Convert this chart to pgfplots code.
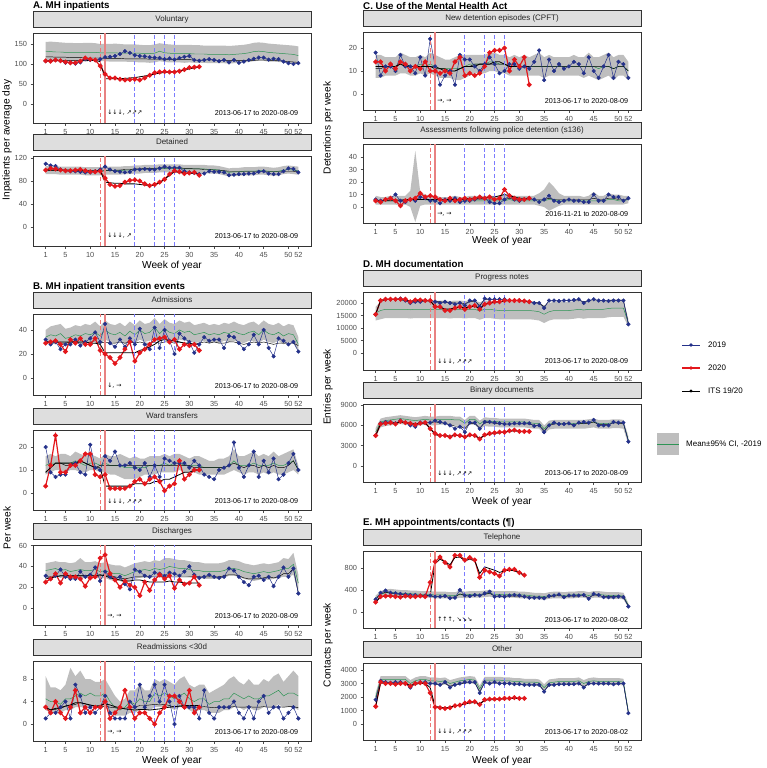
\documentclass[border=0pt]{standalone}
\usepackage{fontspec}
\setmainfont{Liberation Sans}
\newfontfamily\dejavu{DejaVu Sans}
\usepackage{pgfplots}
\pgfplotsset{compat=1.18}
\usepackage{pgfplotstable}
\usepgfplotslibrary{fillbetween}

\definecolor{c19}{HTML}{24318A}
\definecolor{c20}{HTML}{E3171C}
\definecolor{mgreen}{HTML}{2E9455}
\definecolor{bandgray}{HTML}{BEBEBE}
\definecolor{vred}{HTML}{EE7676}
\definecolor{vred2}{HTML}{E88282}
\definecolor{vblue}{HTML}{7B7BFF}
\definecolor{stripfill}{HTML}{DEDEDE}
\definecolor{bord}{HTML}{333333}
\definecolor{tickc}{HTML}{4D4D4D}

\newcommand\tickfont{\fontsize{7.4}{8}\selectfont}
\newcommand\stripfont{\fontsize{8}{9}\selectfont}
\newcommand\labfont{\fontsize{10.2}{12}\selectfont}
\newcommand\ttlfont{\fontsize{9.8}{11}\selectfont\bfseries}
\newcommand\annfont{\fontsize{7.2}{8}\selectfont}
\newcommand\arrfont{\dejavu\fontsize{6.2}{7}\selectfont}

\pgfplotsset{
  panel/.style={
    scale only axis,
    xmin=-1.55, xmax=54.55,
    xtick={1,5,10,15,20,25,30,35,40,45,50,52},
    scaled ticks=false,
    axis line style={line width=0.6pt, bord},
    tick align=outside, xtick pos=left, ytick pos=left,
    major tick length=2.5bp,
    tick style={line width=0.5pt, tickc},
    ticklabel style={font=\tickfont, text=tickc},
    xticklabel style={inner xsep=0.5pt},
    /pgf/number format/assume math mode=true,
    /pgf/number format/set thousands separator={},
    title style={at={(0.5,1)}, anchor=south, yshift=-0.3pt, fill=stripfill,
      draw=bord, line width=0.6pt, minimum height=16bp, inner sep=0pt,
      font=\stripfont, text=black!85},
    clip=true,
  },
  leftp/.style={panel, width=278bp, title style={minimum width=278bp}},
  rightp/.style={panel, width=278bp, title style={minimum width=278bp}},
}

% reference lines at weeks 12, 13, 19, 23, 25, 27 spanning the axis limits
\newcommand\vl[2]{%
  \addplot[vred, line width=1.0pt, dash pattern=on 4bp off 2.5bp] coordinates {(12,#1) (12,#2)};
  \addplot[vred2, line width=1.8pt] coordinates {(13,#1) (13,#2)};
  \addplot[vblue, line width=1.0pt, dash pattern=on 4bp off 2.5bp] coordinates {(19,#1) (19,#2)};
  \addplot[vblue, line width=1.0pt, dash pattern=on 4bp off 2.5bp] coordinates {(23,#1) (23,#2)};
  \addplot[vblue, line width=1.0pt, dash pattern=on 4bp off 2.5bp] coordinates {(25,#1) (25,#2)};
  \addplot[vblue, line width=1.0pt, dash pattern=on 4bp off 2.5bp] coordinates {(27,#1) (27,#2)};
}

\newcommand\panelplots[3]{%
  \addplot[name path=hi, draw=none] table[x=w,y=hi]{#1};
  \addplot[name path=lo, draw=none] table[x=w,y=lo]{#1};
  \addplot[bandgray, draw=none] fill between[of=hi and lo];
  \addplot[mgreen, line width=0.5pt] table[x=w,y=mn]{#1};
  \addplot[black, line width=0.45pt] table[x=w,y=i19]{#1};
  \addplot[c19, line width=0.5pt, mark=*, mark size=1.8bp] table[x=w,y=y19]{#1};
  \addplot[c20, line width=1.2pt, mark=*, mark size=1.8bp] table[x=w,y=y20]{#1};
  \addplot[black, line width=0.8pt] table[x=w,y=i20]{#1};
  \vl{#2}{#3}
}

\newcommand\ann[2]{%
  \node[anchor=west, font=\arrfont, inner sep=0pt] at ({axis cs:13.4,0}|-{rel axis cs:0,0.11}) {#1};
  \node[anchor=east, font=\annfont, inner sep=0pt] at ({axis cs:52,0}|-{rel axis cs:0,0.11}) {#2};
}

\pgfplotstableread{
w y19 y20 mn lo hi i19 i20
1 107 108 132 110 155 118 108
2 108 107 131 109 156 118 108
3 110 110 130 108 155 117 108
4 108 108 130 108 154 117 108
5 103 105 129 107 153 117 108
6 104 103 129 107 153 116 108
7 101 103 129 108 152 116 108
8 104 107 129 108 152 116 108
9 112 115 129 108 153 115 108
10 110 112 129 108 153 115 109
11 110 110 129 108 152 115 109
12 112 95 128 107 150 115 106
13 117 75 128 107 150 114 63
14 118 65 128 106 150 114 63
15 120 65 128 106 151 114 63
16 125 62 127 106 150 114 64
17 132 60 127 106 149 113 64
18 128 61 127 105 149 113 65
19 122 62 127 105 149 113 66
20 120 60 127 104 148 113 68
21 119 65 126 104 147 113 70
22 117 72 126 103 147 112 72
23 116 78 127 104 149 112 75
24 115 80 132 107 152 112 77
25 112 81 128 105 150 112 79
26 114 80 127 104 149 111 80
27 111 80 126 104 148 111 81
28 115 82 126 104 148 111 83
29 118 86 126 103 148 111 85
30 120 91 126 104 148 111 88
31 110 92 125 103 147 110 90
32 108 93 125 103 147 110 92
33 110 nan 125 103 146 110 nan
34 112 nan 124 102 146 110 nan
35 110 nan 124 102 146 110 nan
36 107 nan 124 102 146 109 nan
37 110 nan 124 102 146 109 nan
38 104 nan 123 101 145 109 nan
39 110 nan 124 102 146 109 nan
40 103 nan 125 103 147 109 nan
41 106 nan 126 104 148 109 nan
42 110 nan 128 105 150 109 nan
43 113 nan 131 107 153 109 nan
44 116 nan 132 108 154 110 nan
45 116 nan 131 108 153 110 nan
46 111 nan 129 106 151 109 nan
47 113 nan 128 106 150 109 nan
48 112 nan 127 105 149 108 nan
49 106 nan 126 104 148 107 nan
50 102 nan 125 103 147 106 nan
51 100 nan 124 102 146 105 nan
52 102 nan 121 100 144 104 nan
}\tVol

\pgfplotstableread{
w y19 y20 mn lo hi i19 i20
1 110 99 99 92 106 98 99
2 107 102 99 92 106 98 99
3 106 101 99 92 106 98 99
4 100 99 98 91 105 98 99
5 98 98 98 91 105 98 99
6 97 98 98 91 105 98 99
7 97 99 98 91 105 97 98
8 96 100 98 91 105 97 98
9 95 98 97 90 104 97 98
10 95 96 97 90 104 97 98
11 97 96 97 90 104 97 98
12 100 97 97 90 104 97 98
13 105 85 98 91 105 98 78
14 100 74 98 91 105 98 77
15 97 71 98 91 105 99 76
16 96 72 98 91 105 99 76
17 95 78 99 92 106 100 75
18 96 81 99 92 106 100 75
19 100 82 100 93 107 101 75
20 100 80 100 93 107 101 74
21 101 75 101 94 108 102 73
22 100 72 101 94 108 102 72
23 100 74 101 94 108 102 73
24 102 78 102 95 109 103 77
25 105 83 102 95 109 103 83
26 103 92 102 95 109 103 90
27 103 98 102 95 109 103 96
28 103 96 102 95 109 103 95
29 97 93 101 94 108 102 94
30 95 94 101 94 108 102 93
31 94 95 101 94 108 101 93
32 92 90 101 94 108 101 92
33 93 nan 101 94 108 100 nan
34 97 nan 100 93 107 100 nan
35 96 nan 100 93 107 99 nan
36 96 nan 99 92 106 99 nan
37 95 nan 97 90 104 98 nan
38 90 nan 95 88 102 97 nan
39 91 nan 96 89 103 97 nan
40 92 nan 96 89 103 97 nan
41 92 nan 97 90 104 97 nan
42 93 nan 97 90 104 97 nan
43 93 nan 97 90 104 97 nan
44 96 nan 98 91 105 97 nan
45 97 nan 98 91 105 97 nan
46 93 nan 97 90 104 97 nan
47 92 nan 96 89 103 97 nan
48 92 nan 97 90 104 97 nan
49 97 nan 99 92 106 97 nan
50 102 nan 100 93 107 97 nan
51 101 nan 99 92 106 97 nan
52 95 nan 98 91 105 96 nan
}\tDet

\pgfplotstableread{
w y19 y20 mn lo hi i19 i20
1 32 29 34 28 40 30 30
2 28 30 36 29 43 30 30
3 30 31 35 28 44 30 30
4 24 28 37 30 45 29 30
5 28 22 33 27 41 29 30
6 28 32 34 28 42 30 30
7 32 29 36 30 44 30 30
8 27 33 35 29 43 29 30
9 30 28 37 30 45 29 30
10 33 28 36 29 44 30 29
11 38 33 38 31 47 30 29
12 30 23 35 28 43 29 28
13 45 20 40 32 48 30 21
14 29 17 37 30 45 29 21
15 26 12 36 29 44 29 21
16 32 17 38 31 46 30 21
17 26 24 35 28 43 29 21
18 33 30 39 31 47 30 21
19 28 14 36 29 44 29 21
20 41 21 40 32 48 30 23
21 28 24 37 30 45 29 24
22 24 28 38 31 46 29 26
23 42 32 42 34 50 30 28
24 25 33 37 30 45 29 31
25 40 34 41 33 49 30 32
26 31 30 38 31 46 30 31
27 20 32 37 30 45 29 31
28 37 24 40 32 48 30 30
29 33 28 38 31 46 29 29
30 30 27 39 31 47 29 29
31 21 28 36 29 44 28 28
32 28 23 37 30 45 29 28
33 34 nan 38 31 46 30 nan
34 31 nan 36 29 44 29 nan
35 32 nan 37 30 45 30 nan
36 32 nan 36 29 44 29 nan
37 25 nan 38 31 46 29 nan
38 35 nan 37 30 45 30 nan
39 34 nan 39 31 47 30 nan
40 29 nan 37 30 45 29 nan
41 24 nan 36 29 44 28 nan
42 28 nan 38 31 46 29 nan
43 36 nan 39 31 47 30 nan
44 28 nan 36 29 44 29 nan
45 40 nan 40 32 48 30 nan
46 25 nan 37 30 45 29 nan
47 18 nan 36 29 44 28 nan
48 33 nan 38 31 46 29 nan
49 31 nan 35 28 43 29 nan
50 28 nan 37 30 45 29 nan
51 30 nan 36 29 44 29 nan
52 22 nan 28 22 34 27 nan
}\tAdm

\pgfplotstableread{
w y19 y20 mn lo hi i19 i20
1 20 3 12 8 16 9 9
2 9 12 13 9 17 11 11
3 7 25 13 10 16 13 13
4 8 9 13 10 17 13 13
5 8 9 13 9 17 12 13
6 12 12 13 10 16 12 13
7 13 12 14 10 18 13 13
8 9 14 13 9 17 14 14
9 8 17 12 9 16 13 13
10 21 17 13 10 17 12 12
11 11 8 13 10 16 11 11
12 10 7 12 9 15 12 11
13 16 8 13 9 17 12 3
14 14 2 12 8 16 12 3
15 18 2 12 8 16 12 3
16 12 2 12 7 17 12 3
17 12 2 11 6 16 12 3
18 13 3 11 6 15 12 3
19 11 5 11 6 16 12 4
20 10 6 11 7 15 12 4
21 13 4 11 8 15 12 4
22 7 6 12 8 16 12 4
23 12 7 12 8 16 12 5
24 7 5 12 9 16 12 5
25 15 1 13 9 17 12 6
26 14 3 12 9 16 12 6
27 13 4 13 9 17 12 7
28 13 14 13 10 17 12 8
29 13 6 12 9 16 12 9
30 11 8 12 9 15 12 9
31 14 10 12 9 16 11 10
32 12 10 12 8 16 11 10
33 8 nan 11 8 15 11 nan
34 7 nan 11 8 14 11 nan
35 6 nan 11 8 14 11 nan
36 10 nan 11 8 15 11 nan
37 11 nan 11 8 15 11 nan
38 12 nan 12 9 16 12 nan
39 22 nan 14 10 19 13 nan
40 11 nan 12 9 16 12 nan
41 7 nan 12 8 16 11 nan
42 12 nan 12 9 17 12 nan
43 18 nan 13 9 18 12 nan
44 7 nan 12 8 16 11 nan
45 14 nan 12 9 17 12 nan
46 9 nan 12 8 16 11 nan
47 15 nan 13 9 18 12 nan
48 6 nan 12 8 16 11 nan
49 8 nan 12 8 17 11 nan
50 13 nan 13 9 18 12 nan
51 17 nan 14 10 19 14 nan
52 10 nan 10 8 12 10 nan
}\tWard

\pgfplotstableread{
w y19 y20 mn lo hi i19 i20
1 31 25 36 29 43 30 28
2 28 28 37 30 44 30 29
3 31 33 38 31 45 30 30
4 37 24 36 29 44 31 31
5 30 33 37 30 44 31 31
6 28 30 35 28 43 31 31
7 28 30 36 29 44 31 31
8 35 28 37 29 48 31 31
9 30 21 36 29 44 31 31
10 32 29 36 29 44 31 31
11 39 30 37 30 45 31 31
12 26 48 35 28 43 31 32
13 35 51 36 29 44 32 31
14 30 33 34 27 42 31 29
15 28 27 33 26 41 30 28
16 30 20 33 26 41 29 27
17 23 26 31 24 39 28 26
18 18 22 33 26 41 29 26
19 37 20 35 28 43 30 27
20 35 12 36 29 44 30 27
21 31 25 37 30 45 30 26
22 30 17 36 29 44 30 25
23 34 27 38 31 46 30 25
24 33 32 37 30 45 30 25
25 31 28 38 30 48 30 25
26 34 31 40 32 48 30 26
27 33 19 39 31 47 30 25
28 31 27 38 31 46 30 25
29 35 23 38 31 46 30 24
30 40 24 37 30 45 30 24
31 32 30 36 29 44 30 24
32 29 22 36 29 44 30 24
33 30 nan 35 28 43 30 nan
34 32 nan 35 28 43 30 nan
35 30 nan 35 28 43 30 nan
36 29 nan 35 28 43 30 nan
37 30 nan 36 29 44 31 nan
38 38 nan 38 31 46 32 nan
39 36 nan 38 31 46 32 nan
40 30 nan 37 30 45 31 nan
41 25 nan 35 28 43 29 nan
42 22 nan 34 27 42 28 nan
43 30 nan 33 26 41 28 nan
44 31 nan 34 27 42 28 nan
45 27 nan 35 28 43 29 nan
46 30 nan 34 27 42 30 nan
47 21 nan 35 28 43 29 nan
48 30 nan 36 29 44 30 nan
49 39 nan 38 30 48 33 nan
50 30 nan 38 30 47 33 nan
51 38 nan 42 32 53 38 nan
52 14 nan 24 14 32 14 nan
}\tDis

\pgfplotstableread{
w y19 y20 mn lo hi i19 i20
1 1 3 4.5 2.5 8.5 2.8 3.0
2 2 2 4 2 6.5 2.6 2.5
3 2 4 4 2 6.5 2.6 2.8
4 3 2 3.5 2 6 3.0 2.8
5 4 1 4.5 2.5 7 3.2 3.2
6 1 3 4.5 2.5 10 3.3 3.4
7 7 6 5 3 8.5 3.5 3.8
8 5 2 5.5 3 9.5 3.8 3.8
9 2 3 5 3 8 3.6 3.6
10 3 2 5.5 3 8 3.3 3.4
11 2 3 5 3 7.5 3.2 3.2
12 3 3 5 3 7.5 3.0 3.3
13 5 4 5.5 3 8 3.2 3.6
14 2 1 4 2 6.5 3.0 3.4
15 1 2 3 1.5 5 2.9 3.1
16 1 3 2.5 1.5 4 2.8 2.9
17 1 6 3 1.5 4.5 2.8 2.7
18 4 3 4 2 6 3.0 2.6
19 3 1 3.5 2 6 3.0 2.5
20 7 2 4.5 2.5 7 3.3 2.6
21 3 2 4 2.5 6 3.3 2.6
22 5 1 4 2.5 6 3.4 2.5
23 7 0 5.5 3 8 3.5 2.6
24 4 2 5 3 7.5 3.4 2.7
25 7 3 5.5 3 8 3.5 2.9
26 4 5 5 3 7.5 3.3 3.0
27 0 5 4.5 2.5 7 3.0 3.1
28 5 4 5 3 8 3.2 3.2
29 3 3 5.5 3 8.5 3.1 3.3
30 3 6 4.5 2.5 7 3.1 3.3
31 3 2 4 2 6.5 3.0 3.3
32 1 3 4.5 2.5 7 3.0 3.3
33 6 nan 4.5 2.5 7 3.1 nan
34 2 nan 3.5 2 5.5 3.0 nan
35 1 nan 4 2 6 2.9 nan
36 3 nan 4 2 6.5 3.0 nan
37 3 nan 4.5 2.5 7 3.0 nan
38 3 nan 4.5 2.5 8 3.0 nan
39 4 nan 5.5 3 8.5 3.1 nan
40 2 nan 5 3 7.5 3.0 nan
41 1 nan 4.5 2.5 7 3.0 nan
42 3 nan 5 3 8 3.1 nan
43 1 nan 4.5 2.5 7 3.0 nan
44 4 nan 4.5 2.5 7 3.0 nan
45 5 nan 5 3 8 3.1 nan
46 2 nan 5 3 7.5 3.0 nan
47 3 nan 5.5 3 8.5 3.0 nan
48 3 nan 6 3.5 9 3.1 nan
49 1 nan 5 3 7.5 3.0 nan
50 2 nan 5.5 3 8.5 3.1 nan
51 3 nan 5.5 3 9.5 3.1 nan
52 1 nan 5 2.5 8.5 2.9 nan
}\tRead

\pgfplotstableread{
w y19 y20 mn lo hi i19 i20
1 18 14 12 7 17 11 12
2 8 14 12 7 17 11 12
3 12 10 12 8 16 12 12
4 12 13 12 8 16 12 12
5 10 11 12 8 16 12 12
6 17 14 14 9 18 13 13
7 12 13 13 9 17 13 12
8 12 10 12 8 16 12 12
9 9 12 12 8 16 12 12
10 16 11 13 9 17 12 12
11 8 14 12 8 16 12 12
12 24 10 13 9 18 12 12
13 12 10 12 8 17 12 11
14 4 9 11 7 16 11 11
15 8 10 11 7 15 11 10
16 10 9 11 7 15 10 10
17 4 14 11 6 16 10 10
18 17 16 11 6 17 11 11
19 15 8 12 7 17 12 12
20 15 9 13 8 17 12 12
21 12 8 13 9 17 13 12
22 10 9 13 9 17 13 13
23 13 12 13 9 17 13 13
24 16 18 14 10 18 13 13
25 13 19 14 10 18 13 14
26 9 19 13 9 17 13 14
27 10 20 13 9 17 13 13
28 13 10 12 8 16 12 12
29 13 15 12 8 17 12 12
30 11 12 12 8 16 12 12
31 12 16 12 8 17 12 12
32 11 4 12 8 16 12 12
33 14 nan 12 8 17 12 nan
34 19 nan 12 8 18 12 nan
35 6 nan 12 7 16 12 nan
36 15 nan 12 8 17 12 nan
37 10 nan 12 8 16 12 nan
38 13 nan 12 8 16 12 nan
39 11 nan 12 8 16 12 nan
40 12 nan 12 8 16 12 nan
41 14 nan 12 8 17 12 nan
42 13 nan 12 8 16 12 nan
43 9 nan 12 7 16 12 nan
44 16 nan 12 8 18 12 nan
45 10 nan 12 7 16 12 nan
46 7 nan 11 6 16 12 nan
47 12 nan 12 7 17 12 nan
48 17 nan 12 8 18 12 nan
49 7 nan 11 6 16 11 nan
50 14 nan 12 8 17 12 nan
51 13 nan 12 8 17 12 nan
52 7 nan 10 6 14 10 nan
}\tNew

\pgfplotstableread{
w y19 y20 mn lo hi i19 i20
1 6 5 5 2 9 5 5
2 5 4 5 2 8 5 5
3 6 6 5 2 8 5 5
4 7 7 5 2 9 6 5
5 10 5 5 2 9 6 5
6 5 1 5 1 9 6 5
7 4 5 5 2 9 6 6
8 6 6 6 0 13 6 6
9 5 7 6 -12 45 6 6
10 8 11 6 1 12 6 6
11 7 8 6 2 10 6 6
12 5 9 5 2 9 6 6
13 5 8 5 2 9 6 6
14 3 6 5 2 8 6 6
15 6 5 5 2 8 6 6
16 5 7 5 2 8 6 6
17 7 5 5 2 9 6 6
18 4 6 5 2 8 6 6
19 5 7 5 2 8 6 6
20 5 6 5 2 9 6 7
21 6 7 5 2 9 6 7
22 8 8 5 2 9 6 7
23 7 7 5 2 9 6 7
24 4 8 5 2 9 6 8
25 3 6 5 2 9 6 8
26 3 7 5 2 9 6 9
27 6 14 5 2 10 6 10
28 9 9 6 2 10 7 9
29 6 7 5 2 9 6 8
30 5 6 5 2 9 6 7
31 6 6 5 2 9 6 7
32 7 7 5 2 9 6 7
33 6 nan 5 2 9 6 nan
34 4 nan 5 1 11 6 nan
35 6 nan 5 0 14 6 nan
36 9 nan 6 -3 20 7 nan
37 5 nan 6 -1 16 6 nan
38 4 nan 5 1 11 6 nan
39 5 nan 5 2 9 6 nan
40 6 nan 5 2 9 6 nan
41 5 nan 5 2 9 6 nan
42 5 nan 5 2 9 6 nan
43 4 nan 5 2 8 6 nan
44 4 nan 5 2 9 6 nan
45 10 nan 5 2 12 7 nan
46 5 nan 5 2 9 6 nan
47 5 nan 5 2 9 6 nan
48 10 nan 6 2 11 7 nan
49 8 nan 6 2 10 7 nan
50 8 nan 5 2 10 6 nan
51 5 nan 5 2 9 6 nan
52 7 nan 6 3 9 6 nan
}\tAss

\pgfplotstableread{
w y19 y20 mn lo hi i19 i20
1 15500 15500 16000 13000 18500 15500 15500
2 21000 21000 17000 13500 20500 21000 21000
3 21500 21500 17500 14000 21000 21300 21300
4 21500 21500 17500 14000 21000 21300 21300
5 21500 21500 17500 14000 21000 21300 21300
6 21800 21500 17500 14000 21000 21300 21300
7 21000 21500 17500 14000 21000 21000 21200
8 20000 20500 17300 13800 20800 20300 20600
9 20500 21200 17500 14000 21000 20500 21000
10 20500 21200 17500 14000 21000 20700 21000
11 21000 21000 17500 14000 21000 20800 20900
12 21000 21000 17500 14000 21000 20800 20900
13 20500 18500 17500 14000 21000 20800 18600
14 20000 18500 17500 14000 21000 20500 18400
15 20500 17000 17500 14000 21000 20300 17600
16 20000 17000 17300 13800 20800 20200 17600
17 19500 18000 17500 14000 21000 20000 18000
18 20000 18500 17500 14000 21000 20000 18400
19 19000 17500 17300 13800 20800 19800 18000
20 21000 18500 17500 14000 21000 20500 18500
21 21000 19000 17500 14000 21000 20800 18800
22 18500 17500 16800 13300 20300 19000 17800
23 21800 19500 17500 14000 21000 21500 19500
24 21500 20000 17500 14000 21000 21300 19900
25 21500 20500 17200 13700 20700 21300 20300
26 21500 20500 17000 13500 20500 21300 20500
27 21500 21000 17000 13500 20500 21300 20800
28 21000 21000 17000 13500 20500 21000 20900
29 21000 21000 17000 13500 20500 21000 20900
30 21000 21000 17000 13500 20500 21000 20900
31 20800 20800 17000 13500 20500 20800 20800
32 20500 20500 17000 13500 20500 20600 20600
33 20000 nan 16800 13300 20300 20300 nan
34 20000 nan 16500 13000 20000 20000 nan
35 18000 nan 15500 12000 19000 18500 nan
36 21000 nan 16500 13000 20000 20800 nan
37 21000 nan 17000 13500 20500 20900 nan
38 20800 nan 17000 13500 20500 20800 nan
39 21000 nan 17000 13500 20500 20900 nan
40 21000 nan 17000 13500 20500 21000 nan
41 21200 nan 17200 13700 20700 21000 nan
42 21500 nan 17500 14000 21000 21200 nan
43 20000 nan 17200 13700 20700 20500 nan
44 21000 nan 17500 14000 21000 21000 nan
45 21500 nan 17500 14000 21000 21300 nan
46 21000 nan 17500 14000 21000 21000 nan
47 21000 nan 17500 14000 21000 20900 nan
48 20800 nan 17800 14300 21300 20900 nan
49 21000 nan 18000 14500 21500 21000 nan
50 21000 nan 18000 14500 21500 21000 nan
51 21000 nan 18000 14500 21500 21000 nan
52 11500 nan 12000 10500 13500 11800 nan
}\tProg

\pgfplotstableread{
w y19 y20 mn lo hi i19 i20
1 4500 4500 5000 4300 5600 4500 4500
2 6300 6200 6500 5700 7000 6300 6200
3 6500 6300 6700 5900 7200 6400 6300
4 6500 6400 6800 6000 7300 6400 6400
5 6300 6200 6900 6100 7400 6400 6300
6 6700 6600 7000 6200 7500 6500 6500
7 6400 6400 6900 6100 7400 6400 6400
8 6000 6300 6800 6000 7300 6200 6300
9 5800 6100 6700 5900 7200 6100 6200
10 6400 6300 6800 6000 7300 6300 6300
11 6400 6400 6900 6100 7400 6400 6300
12 6400 5500 6800 6000 7300 6400 5600
13 6700 4800 6800 6000 7300 6500 4600
14 6500 4500 6900 6100 7400 6400 4500
15 6300 4500 6900 6100 7400 6300 4500
16 6000 4300 6900 6100 7400 6100 4400
17 5500 4600 6800 6000 7300 5900 4500
18 5800 4500 6800 6000 7300 5900 4500
19 5000 4300 6300 5500 6800 5500 4300
20 6400 4600 6900 6100 7400 6300 4500
21 6400 4500 6900 6100 7400 6300 4500
22 5500 4000 6200 5400 6700 5600 4100
23 6500 4600 6700 5900 7200 6400 4500
24 6500 4800 6600 5800 7100 6400 4700
25 6400 4900 6600 5800 7100 6300 4800
26 6300 5000 6500 5700 7000 6300 4900
27 6200 5000 6500 5700 7000 6200 5000
28 6200 5200 6500 5700 7000 6200 5100
29 6300 5300 6500 5700 7000 6200 5200
30 6300 5100 6500 5700 7000 6200 5100
31 6300 5100 6500 5700 7000 6200 5100
32 6300 5100 6400 5600 6900 6200 5100
33 5900 nan 6300 5500 6800 6000 nan
34 6000 nan 6300 5500 6800 6000 nan
35 5000 nan 5500 4700 6000 5200 nan
36 6000 nan 6200 5400 6700 6000 nan
37 6400 nan 6300 5500 6800 6200 nan
38 6200 nan 6300 5500 6800 6200 nan
39 6200 nan 6300 5500 6800 6200 nan
40 6300 nan 6300 5500 6800 6200 nan
41 6000 nan 6300 5500 6800 6100 nan
42 6400 nan 6300 5500 6800 6300 nan
43 6500 nan 6300 5500 6800 6300 nan
44 6400 nan 6400 5600 6900 6300 nan
45 6800 nan 6500 5700 7000 6500 nan
46 6000 nan 6300 5500 6800 6100 nan
47 6000 nan 6300 5500 6800 6100 nan
48 6000 nan 6300 5500 6800 6100 nan
49 6500 nan 6400 5600 6900 6400 nan
50 6400 nan 6400 5600 6900 6300 nan
51 6400 nan 6300 5500 6800 6300 nan
52 3600 nan 3800 3200 4400 3700 nan
}\tBin

\pgfplotstableread{
w y19 y20 mn lo hi i19 i20
1 230 180 260 220 300 230 180
2 350 280 320 270 380 330 280
3 390 290 350 290 410 360 290
4 350 290 360 300 420 340 290
5 340 280 350 290 410 330 290
6 330 270 340 280 400 320 280
7 320 290 340 280 400 310 280
8 310 280 330 270 390 300 280
9 310 280 330 270 390 300 280
10 300 290 320 260 380 300 290
11 300 280 320 260 380 300 290
12 300 540 320 260 380 290 300
13 280 915 310 250 370 280 880
14 280 1000 310 250 370 280 960
15 290 900 310 250 370 280 910
16 250 820 300 240 360 270 860
17 260 1030 300 240 360 270 990
18 400 1030 320 260 390 330 1000
19 300 945 310 250 370 300 930
20 290 990 320 260 380 290 960
21 310 945 320 260 380 300 930
22 300 630 320 260 380 300 700
23 340 760 330 270 390 320 820
24 370 730 340 280 400 340 790
25 280 700 320 260 380 290 760
26 290 655 320 260 380 290 720
27 280 760 320 260 380 290 750
28 300 775 320 260 380 290 760
29 310 775 320 260 380 290 750
30 300 715 310 250 370 290 710
31 280 670 310 250 370 280 670
32 260 nan 300 240 360 270 nan
33 260 nan 290 230 350 270 nan
34 260 nan 290 230 350 270 nan
35 250 nan 280 220 340 260 nan
36 290 nan 300 240 360 280 nan
37 300 nan 310 250 370 290 nan
38 320 nan 310 250 370 300 nan
39 270 nan 300 240 360 280 nan
40 300 nan 310 250 370 290 nan
41 300 nan 310 250 370 290 nan
42 300 nan 320 260 380 290 nan
43 310 nan 320 260 380 300 nan
44 240 nan 300 240 360 260 nan
45 330 nan 320 260 380 310 nan
46 310 nan 320 260 380 300 nan
47 270 nan 310 250 370 280 nan
48 270 nan 300 240 360 280 nan
49 270 nan 300 240 360 280 nan
50 280 nan 300 240 360 280 nan
51 270 nan 290 230 350 270 nan
52 100 nan 120 80 160 110 nan
}\tTel

\pgfplotstableread{
w y19 y20 mn lo hi i19 i20
1 1800 1300 2000 1700 2300 1800 1300
2 3200 3100 3300 3050 3550 3150 3050
3 3100 3000 3300 3050 3550 3100 3000
4 3050 3000 3300 3050 3550 3050 3000
5 3100 2950 3300 3050 3550 3050 2950
6 3100 3000 3300 3050 3550 3050 3000
7 3000 3000 3300 3050 3550 3000 3000
8 2700 2800 3000 2750 3250 2800 2850
9 3000 3000 3200 2950 3450 3000 2950
10 3100 3050 3300 3050 3550 3050 3000
11 3100 3000 3300 3050 3550 3050 3000
12 3000 2300 3200 2950 3450 3000 2700
13 3000 1250 3200 2950 3450 2950 1300
14 2900 1200 3150 2900 3400 2900 1250
15 3100 1150 3200 2950 3450 3000 1200
16 2700 1200 3000 2750 3250 2800 1250
17 2900 1350 3100 2850 3350 2900 1350
18 3000 1400 3200 2950 3450 2950 1400
19 3100 1550 3250 3000 3500 3050 1500
20 3100 1650 3300 3050 3550 3050 1550
21 3100 1650 3250 3000 3500 3050 1600
22 2300 1450 2600 2350 2850 2400 1500
23 3100 1800 3250 3000 3500 3050 1750
24 3000 1850 3250 3000 3500 3000 1800
25 3100 1850 3250 3000 3500 3050 1800
26 3000 1850 3250 3000 3500 3000 1850
27 3000 1900 3200 2950 3450 3000 1850
28 3000 1900 3200 2950 3450 3000 1900
29 2950 1950 3150 2900 3400 2950 1900
30 2950 1900 3150 2900 3400 2950 1900
31 2900 1900 3100 2850 3350 2900 1900
32 2900 nan 3100 2850 3350 2900 nan
33 2900 nan 3100 2850 3350 2900 nan
34 2900 nan 3050 2800 3300 2900 nan
35 2400 nan 2700 2450 2950 2450 nan
36 2900 nan 3050 2800 3300 2900 nan
37 2900 nan 3100 2850 3350 2900 nan
38 2950 nan 3150 2900 3400 2950 nan
39 2950 nan 3150 2900 3400 2950 nan
40 2950 nan 3150 2900 3400 2950 nan
41 2950 nan 3150 2900 3400 2950 nan
42 3000 nan 3200 2950 3450 3000 nan
43 2700 nan 3000 2750 3250 2750 nan
44 3000 nan 3150 2900 3400 3000 nan
45 3000 nan 3200 2950 3450 3000 nan
46 3000 nan 3150 2900 3400 3000 nan
47 3000 nan 3150 2900 3400 3000 nan
48 3000 nan 3150 2900 3400 3000 nan
49 2950 nan 3150 2900 3400 2950 nan
50 3000 nan 3150 2900 3400 3000 nan
51 3000 nan 3100 2850 3350 3000 nan
52 800 nan 900 700 1100 850 nan
}\tOth

\begin{document}
\begin{tikzpicture}[x=1bp,y=1bp]

% ---------- titles and labels
\node[anchor=west, font=\ttlfont, inner sep=0pt] at (33,-6) {A. MH inpatients};
\node[anchor=west, font=\ttlfont, inner sep=0pt] at (33,-287) {B. MH inpatient transition events};
\node[anchor=west, font=\ttlfont, inner sep=0pt] at (363,-6) {C. Use of the Mental Health Act};
\node[anchor=west, font=\ttlfont, inner sep=0pt] at (363,-264) {D. MH documentation};
\node[anchor=west, font=\ttlfont, inner sep=0pt] at (363,-523) {E. MH appointments/contacts (¶)};

\node[rotate=90, font=\labfont, inner sep=0pt] at (7,-140) {Inpatients per average day};
\node[rotate=90, font=\labfont, inner sep=0pt] at (7,-528) {Per week};
\node[rotate=90, font=\labfont, inner sep=0pt] at (328,-128) {Detentions per week};
\node[rotate=90, font=\labfont, inner sep=0pt] at (328,-387) {Entries per week};
\node[rotate=90, font=\labfont, inner sep=0pt] at (328,-645) {Contacts per week};

\node[font=\labfont, inner sep=0pt] at (172,-266) {Week of year};
\node[font=\labfont, inner sep=0pt] at (172,-761) {Week of year};
\node[font=\labfont, inner sep=0pt] at (502,-241) {Week of year};
\node[font=\labfont, inner sep=0pt] at (502,-502) {Week of year};
\node[font=\labfont, inner sep=0pt] at (502,-761) {Week of year};

% ---------- legend
\draw[c19, line width=0.5pt] (682,-345) -- (700,-345);
\fill[c19] (691,-345) circle (1.8);
\node[anchor=west, font=\fontsize{8}{9}\selectfont, inner sep=0pt] at (708,-345) {2019};
\draw[c20, line width=1.2pt] (682,-368) -- (700,-368);
\fill[c20] (691,-368) circle (1.8);
\node[anchor=west, font=\fontsize{8}{9}\selectfont, inner sep=0pt] at (708,-368) {2020};
\draw[black, line width=0.7pt] (682,-391) -- (700,-391);
\fill[black] (691,-391) circle (1.6);
\node[anchor=west, font=\fontsize{8}{9}\selectfont, inner sep=0pt] at (708,-391) {ITS 19/20};
\fill[bandgray] (657,-433) rectangle (679,-455);
\draw[mgreen, line width=0.5pt] (657,-444) -- (679,-444);
\node[anchor=west, font=\fontsize{8}{9}\selectfont, inner sep=0pt] at (686,-444) {Mean±95\% CI, -2019};

% ---------- C  (right column drawn first)
\begin{axis}[rightp, at={(363bp,-110bp)}, anchor=south west, height=78bp,
  ymin=-7, ymax=27, ytick={0,10,20}, title={New detention episodes (CPFT)}]
\panelplots{\tNew}{-7}{27}
\ann{→, →}{2013-06-17 to 2020-08-09}
\end{axis}
\begin{axis}[rightp, at={(363bp,-223bp)}, anchor=south west, height=79bp,
  ymin=-12.8, ymax=50.4, ytick={0,10,20,30,40}, title={Assessments following police detention (s136)}]
\panelplots{\tAss}{-12.8}{50.4}
\ann{→, →}{2016-11-21 to 2020-08-09}
\end{axis}

% ---------- D
\begin{axis}[rightp, at={(363bp,-370bp)}, anchor=south west, height=78bp,
  ymin=-6800, ymax=24400, ytick={0,5000,10000,15000,20000}, title={Progress notes}]
\panelplots{\tProg}{-6800}{24400}
\ann{↓↓↓, ↗↗↗}{2013-06-17 to 2020-08-09}
\end{axis}
\begin{axis}[rightp, at={(363bp,-482bp)}, anchor=south west, height=78bp,
  ymin=-2360, ymax=9150, ytick={0,3000,6000,9000}, title={Binary documents}]
\panelplots{\tBin}{-2360}{9150}
\ann{↓↓↓, ↗↗↗}{2013-06-17 to 2020-08-09}
\end{axis}

% ---------- E
\begin{axis}[rightp, at={(363bp,-628bp)}, anchor=south west, height=77bp,
  ymin=-291, ymax=1109, ytick={0,400,800}, title={Telephone}]
\panelplots{\tTel}{-291}{1109}
\ann{↑↑↑, ↘↘↘}{2013-06-17 to 2020-08-02}
\end{axis}
\begin{axis}[rightp, at={(363bp,-740bp)}, anchor=south west, height=77bp,
  ymin=-1185, ymax=4518, ytick={0,1000,2000,3000,4000}, title={Other}]
\panelplots{\tOth}{-1185}{4518}
\ann{↓↓↓, ↗↗↗}{2013-06-17 to 2020-08-02}
\end{axis}

% ---------- A
\begin{axis}[leftp, at={(33bp,-123bp)}, anchor=south west, height=90bp,
  ymin=-47.5, ymax=177.5, ytick={0,50,100,150}, title={Voluntary}]
\panelplots{\tVol}{-47.5}{177.5}
\ann{↓↓↓, ↗↗↗}{2013-06-17 to 2020-08-09}
\end{axis}
\begin{axis}[leftp, at={(33bp,-246bp)}, anchor=south west, height=90bp,
  ymin=-33, ymax=123.5, ytick={0,40,80,120}, title={Detained}]
\panelplots{\tDet}{-33}{123.5}
\ann{↓↓↓, ↗}{2013-06-17 to 2020-08-09}
\end{axis}

% ---------- B
\begin{axis}[leftp, at={(33bp,-395bp)}, anchor=south west, height=81bp,
  ymin=-14.2, ymax=53.3, ytick={0,20,40}, title={Admissions}]
\panelplots{\tAdm}{-14.2}{53.3}
\ann{↓, →}{2013-06-17 to 2020-08-09}
\end{axis}
\begin{axis}[leftp, at={(33bp,-510bp)}, anchor=south west, height=80bp,
  ymin=-7.4, ymax=27.4, ytick={0,10,20}, title={Ward transfers}]
\panelplots{\tWard}{-7.4}{27.4}
\ann{↓↓↓, ↗↗↗}{2013-06-17 to 2020-08-09}
\end{axis}
\begin{axis}[leftp, at={(33bp,-625bp)}, anchor=south west, height=80bp,
  ymin=-16.2, ymax=60.5, ytick={0,20,40,60}, title={Discharges}]
\panelplots{\tDis}{-16.2}{60.5}
\ann{→, →}{2013-06-17 to 2020-08-09}
\end{axis}
\begin{axis}[leftp, at={(33bp,-741bp)}, anchor=south west, height=80bp,
  ymin=-3.0, ymax=11.2, ytick={0,4,8}, title={Readmissions <30d}]
\panelplots{\tRead}{-3.0}{11.2}
\ann{→, →}{2013-06-17 to 2020-08-09}
\end{axis}

\pgfresetboundingbox
\useasboundingbox (0,0) rectangle (767,-768);
\end{tikzpicture}
\end{document}
